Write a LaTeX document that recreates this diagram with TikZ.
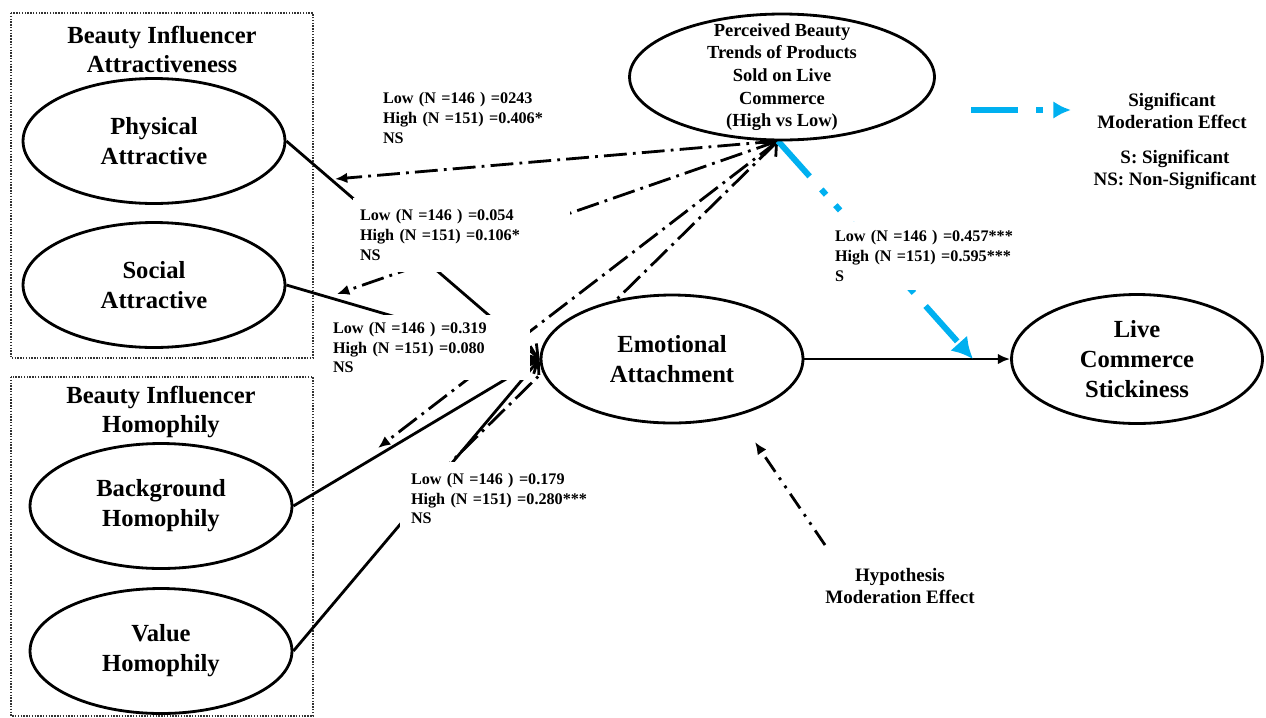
\documentclass[tikz,border=0pt]{standalone}
\usepackage{fontspec}
\setmainfont{Liberation Serif}
\usetikzlibrary{arrows.meta,backgrounds,shapes.geometric}
\definecolor{sigblue}{RGB}{0,176,240}
\begin{document}
\begin{tikzpicture}[x=0.02cm,y=-0.02cm,
  ell/.style={ellipse, draw, line width=1.6pt, fill=white, inner sep=0pt, align=center, font=\bfseries\fontsize{14}{17}\selectfont},
  smallell/.style={ell, minimum width=5.24cm, minimum height=2.5cm},
  modtext/.style={align=center, inner sep=0pt, font=\bfseries\fontsize{10.5}{12.9}\selectfont},
  ttl/.style={align=center, font=\bfseries\fontsize{14}{16.4}\selectfont},
  lab/.style={fill=white, align=left, inner ysep=0pt, font=\bfseries\fontsize{9.2}{11.3}\selectfont},
  leg/.style={align=center, font=\bfseries\fontsize{10.8}{12.8}\selectfont},
  solidarrow/.style={line width=1.6pt, -{Straight Barb[length=6pt,width=11pt]}},
  moddash/.style={line width=1.6pt, dash pattern=on 13pt off 3.5pt on 1.6pt off 3.5pt},
  modtip/.style={-{Latex[length=7pt,width=6pt]}},
  hypdash/.style={line width=1.6pt, dash pattern=on 10pt off 4pt on 1.6pt off 4pt on 1.6pt off 4pt},
  bluedash/.style={draw=sigblue, line width=3.4pt, dash pattern=on 27pt off 10pt on 4pt off 8pt on 4pt off 10pt},
  grpbox/.style={line width=0.6pt, dash pattern=on 0.8pt off 0.8pt, draw=black!80}]
\useasboundingbox (0,0) rectangle (1266,717);

% construct nodes
\node[smallell] (phys) at (154,141) {Physical\\Attractive};
\node[smallell] (soc) at (154,285) {Social\\Attractive};
\node[smallell] (bg) at (161,506) {Background\\Homophily};
\node[smallell] (val) at (161,651) {Value\\Homophily};
\node[ell, minimum width=5.24cm, minimum height=2.56cm] (ea) at (672,359) {Emotional\\Attachment};
\node[ell, minimum width=5.02cm, minimum height=2.58cm] (lcs) at (1137,359) {Live\\Commerce\\Stickiness};
\node[ell, minimum width=6.1cm, minimum height=2.52cm] (mod) at (782,77) {};
\node[modtext] (modtxt) at (mod.center) {Perceived Beauty\\Trends of Products\\Sold on Live\\Commerce\\(High vs Low)};

% group titles
\node[ttl] (t1) at (162,49.5) {Beauty Influencer\\Attractiveness};
\node[ttl] (t2) at (161,412) {Beauty Influencer\\Homophily};

% legend and notes
\node[leg] (sig) at (1172,111) {Significant\\Moderation Effect};
\node[leg] (sdef) at (1175,170) {S: Significant\\NS: Non-Significant};
\node[leg] (hyp) at (900,586) {Hypothesis\\Moderation Effect};

% free ends
\coordinate (mp) at (778,141);
\coordinate (pa) at (335,179);
\coordinate (sa) at (337,294);
\coordinate (ba) at (378,448);
\coordinate (va) at (450,463);
\coordinate (bt) at (973,359);
\coordinate (hs) at (825,545);
\coordinate (he) at (755,442);
\coordinate (ls) at (971,110);
\coordinate (le) at (1071,110);

\begin{scope}[on background layer]
  \draw[grpbox] (11,13) rectangle (313,358);
  \draw[grpbox] (11,377) rectangle (313,716);
  \draw[solidarrow] (phys.east) -- (ea.west);
  \draw[solidarrow] (soc.east) -- (ea.west);
  \draw[solidarrow] (bg.east) -- (ea.west);
  \draw[solidarrow] (val.east) -- (ea.west);
  \draw[line width=1.6pt, -{Latex[length=7pt,width=6pt]}] (ea.east) -- (lcs.west);
  \draw[moddash, modtip] (mp) -- (pa);
  \draw[moddash, modtip] (mp) -- (sa);
  \draw[moddash, modtip] (mp) -- (ba);
  \draw[moddash, {Straight Barb[length=6pt,width=11pt]}-] (mp) -- (va);
  \draw[hypdash, modtip] (hs) -- (he);
  \draw[bluedash, -{Latex[length=12pt,width=13pt]}] (mp) -- (bt);
  \draw[bluedash, -{Latex[length=10pt,width=10pt]}] (ls) -- (le);
\end{scope}

% path coefficient labels
\node[lab, text width=3.2cm, inner xsep=0.14cm, minimum height=1.3cm] (l1) at (463,118) {Low (N =146 ) =0243\\High (N =151) =0.406*\\NS};
\node[lab, text width=4.06cm, inner xsep=0.14cm, minimum height=1.48cm] (l2) at (461.5,235) {Low (N =146 ) =0.054\\High (N =151) =0.106*\\NS};
\node[lab, text width=3.8cm, inner xsep=0.14cm, minimum height=1.3cm] (l3) at (428,347.5) {Low (N =146 ) =0.319\\High (N =151) =0.080\\NS};
\node[lab, text width=3.56cm, inner xsep=0.22cm, minimum height=1.46cm] (l4) at (500,498.5) {Low (N =146 ) =0.179\\High (N =151) =0.280***\\NS};
\node[lab, text width=3.6cm, inner xsep=0.12cm, minimum height=1.36cm] (l5) at (925,256) {Low (N =146 ) =0.457***\\High (N =151) =0.595***\\S};
\end{tikzpicture}
\end{document}
